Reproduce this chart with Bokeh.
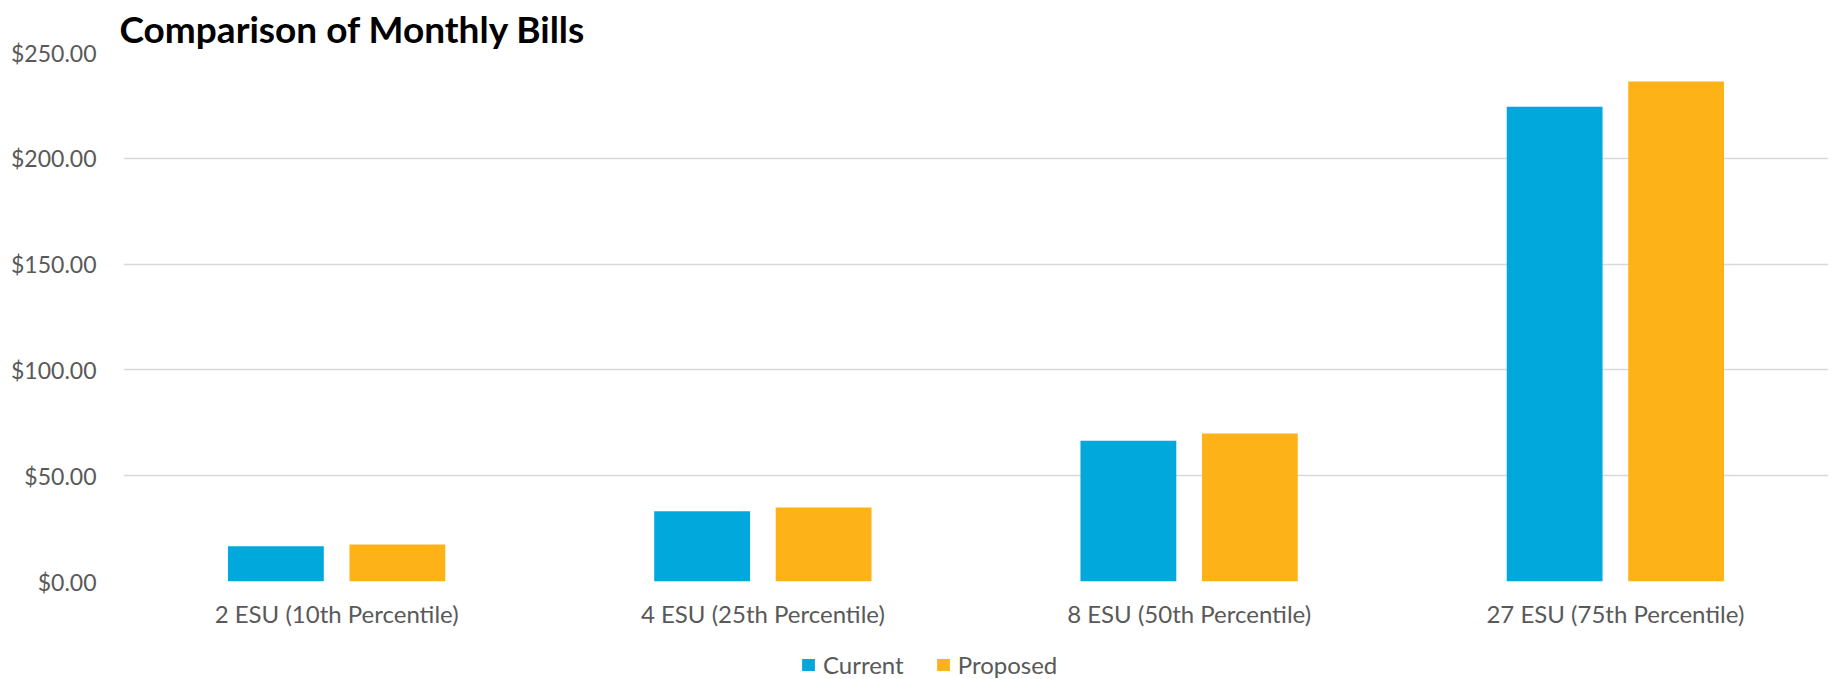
from bokeh.plotting import figure
from bokeh.models import (ColumnDataSource, FactorRange, FixedTicker, NumeralTickFormatter,
                          Legend, LegendItem, Title, Range1d)
from bokeh.layouts import column
from bokeh.transform import dodge
from bokeh.embed import file_html
from bokeh.resources import INLINE

categories = ["2 ESU (10th Percentile)", "4 ESU (25th Percentile)",
              "8 ESU (50th Percentile)", "27 ESU (75th Percentile)"]
current = [16.62, 33.24, 66.48, 224.37]
proposed = [17.50, 35.00, 70.00, 236.25]
y_ticks = [0, 50, 100, 150, 200, 250]
series_names = ["Current", "Proposed"]

BLUE = "#00A8DC"
ORANGE = "#FDB317"
GRAY_TXT = "#595959"
GRID = "#D9D9D9"
FONT = "Lato"

MAIN_H = 639
LEG_H = 679 - MAIN_H

src = ColumnDataSource(dict(cat=categories, current=current, proposed=proposed))

p = figure(width=1832, height=MAIN_H, x_range=FactorRange(*categories, range_padding=0),
           y_range=(0, 250), output_backend="svg", toolbar_location=None,
           min_border_left=123, min_border_right=4, min_border_top=52,
           min_border_bottom=MAIN_H - 581)
p.outline_line_color = None
p.background_fill_color = "white"
p.border_fill_color = "white"

p.vbar(x=dodge("cat", -0.1425, range=p.x_range), top="current", width=0.2248,
       source=src, fill_color=BLUE, line_color=None)
p.vbar(x=dodge("cat", 0.1425, range=p.x_range), top="proposed", width=0.2248,
       source=src, fill_color=ORANGE, line_color=None)

p.xgrid.grid_line_color = None
p.ygrid.grid_line_color = GRID
p.ygrid.grid_line_width = 1.5

p.yaxis.ticker = FixedTicker(ticks=y_ticks)
p.yaxis.formatter = NumeralTickFormatter(format="$0.00")
for ax in (p.xaxis[0], p.yaxis[0]):
    ax.axis_line_color = None
    ax.major_tick_line_color = None
    ax.minor_tick_line_color = None
    ax.major_label_text_font = FONT
    ax.major_label_text_color = GRAY_TXT
p.yaxis.major_label_text_font_size = "23px"
p.xaxis.major_label_text_font_size = "24px"
p.yaxis.major_label_standoff = 21
p.xaxis.major_label_standoff = 11

title = Title(text="Comparison of Monthly Bills", text_font=FONT, text_font_size="37px",
              text_font_style="bold", text_color="black", offset=-4, standoff=0,
              vertical_align="top")
p.add_layout(title, "above")

# legend strip under the chart (key swatches only; drawn outside the visible range)
lf = figure(width=1832, height=LEG_H, x_range=Range1d(0, 1), y_range=Range1d(0, 1),
            x_axis_location=None, y_axis_location=None,
            output_backend="svg", toolbar_location=None,
            min_border_left=0, min_border_right=0, min_border_top=0, min_border_bottom=0)
lf.grid.visible = False
lf.outline_line_color = None
key_src = ColumnDataSource(dict(x=[-5], top=[-5]))
l1 = lf.vbar(x="x", top="top", width=0.1, source=key_src, fill_color=BLUE, line_color=None)
l2 = lf.vbar(x="x", top="top", width=0.1, source=key_src, fill_color=ORANGE, line_color=None)

legend = Legend(items=[LegendItem(label=series_names[0], renderers=[l1]),
                       LegendItem(label=series_names[1], renderers=[l2])],
                orientation="horizontal", location=(677, 0),
                glyph_width=16, glyph_height=15, label_standoff=7, spacing=31,
                padding=0, margin=0, border_line_color=None, background_fill_alpha=0,
                label_text_font=FONT, label_text_font_size="24px", label_text_color=GRAY_TXT)
lf.add_layout(legend, "center")

layout = column(p, lf, spacing=0)
open("out.html", "w").write(file_html(layout, INLINE))
